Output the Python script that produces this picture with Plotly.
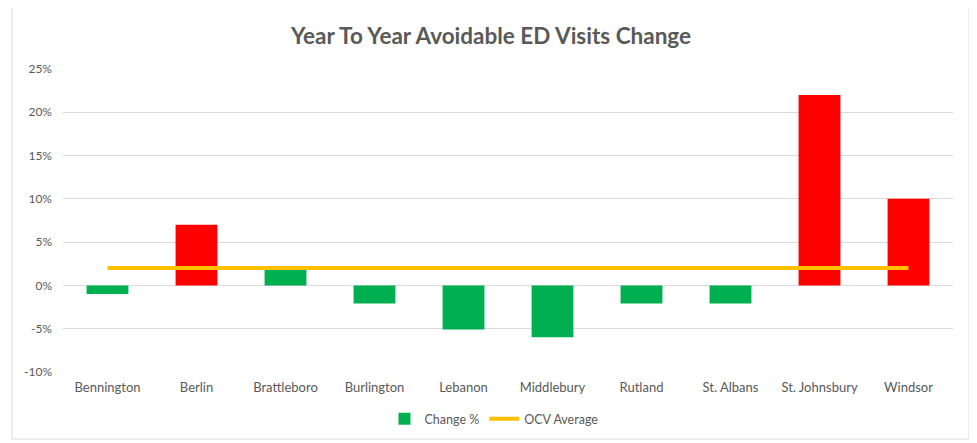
import plotly.graph_objects as go

categories = ["Bennington", "Berlin", "Brattleboro", "Burlington", "Lebanon",
              "Middlebury", "Rutland", "St. Albans", "St. Johnsbury", "Windsor"]
change_pct = [-1, 7, 2, -2.1, -5.1, -6, -2.1, -2.1, 22, 10]
ocv_average = [2] * len(categories)
bar_colors = ["#00B050", "#FF0000", "#00B050", "#00B050", "#00B050",
              "#00B050", "#00B050", "#00B050", "#FF0000", "#FF0000"]
y_ticks = [-10, -5, 0, 5, 10, 15, 20, 25]
y_tick_labels = ["-10%", "-5%", "0%", "5%", "10%", "15%", "20%", "25%"]

W, H = 977, 443
OFF = 8  # page body margin offset
L, R, T, B = 63 - OFF, W - (953 - OFF), 69 - OFF, H - (372 - OFF)
pw, ph = W - L - R, H - T - B

def px_to_paper_x(px):
    return (px - OFF - L) / pw

def px_to_paper_y(py):
    return (H - B - (py - OFF)) / ph

fig = go.Figure()
fig.add_trace(go.Bar(
    x=categories, y=change_pct, name="Change %",
    marker=dict(color=bar_colors, line=dict(width=0)),
))
fig.add_trace(go.Scatter(
    x=categories, y=ocv_average, name="OCV Average", mode="lines",
    line=dict(color="#FFC000", width=4),
))

fig.update_layout(
    width=W, height=H,
    margin=dict(l=L, r=R, t=T, b=B, autoexpand=False),
    paper_bgcolor="white", plot_bgcolor="white",
    font=dict(family="Lato, Open Sans, sans-serif", color="#595959", size=12),
    title=dict(text="<b>Year To Year Avoidable ED Visits Change</b>",
               x=(491 - OFF) / W, xanchor="center", y=1 - (36 - OFF) / H,
               yanchor="middle", font=dict(size=22.5, color="#595959")),
    bargap=0.53,
    showlegend=True,
    legend=dict(orientation="h", x=(494 - OFF) / W, xanchor="center",
                xref="container", y=1 - (419 - OFF) / H, yanchor="middle",
                yref="container", font=dict(size=12.5, color="#595959"),
                traceorder="normal"),
    xaxis=dict(showgrid=False, showline=False, ticks="", tickfont=dict(size=13),
               ticklabelstandoff=6, automargin=False),
    yaxis=dict(range=[-10, 25], tickvals=y_ticks, ticktext=y_tick_labels,
               showgrid=True, gridcolor="#D9D9D9", gridwidth=1,
               zeroline=True, zerolinecolor="#D9D9D9", zerolinewidth=1,
               showline=False, ticks="", tickfont=dict(size=12),
               ticklabelstandoff=10, automargin=False),
    shapes=[dict(type="rect", xref="paper", yref="paper",
                 x0=px_to_paper_x(12), x1=px_to_paper_x(969),
                 y0=px_to_paper_y(439), y1=px_to_paper_y(7),
                 line=dict(color="#D9D9D9", width=1), fillcolor="rgba(0,0,0,0)",
                 layer="below")],
)

fig.write_html("out.html")
